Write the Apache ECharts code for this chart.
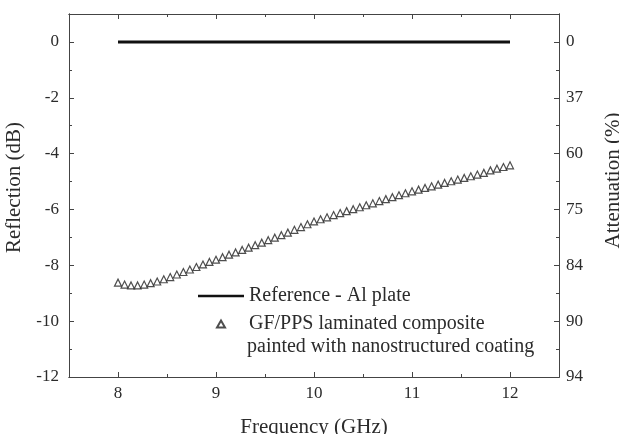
<!DOCTYPE html>
<html>
<head>
<meta charset="utf-8">
<title>Reflection</title>
<script src="https://cdn.jsdelivr.net/npm/echarts@6/dist/echarts.min.js"></script>
</head>
<body style="margin:0;">
<div id="main" style="width: 619px; height: 434px;"></div>
<script type="text/javascript">
// frequency (GHz) of the measured points
var freq = [8.000, 8.067, 8.133, 8.200, 8.267, 8.333, 8.400, 8.467, 8.533, 8.600,
            8.667, 8.733, 8.800, 8.867, 8.933, 9.000, 9.067, 9.133, 9.200, 9.267,
            9.333, 9.400, 9.467, 9.533, 9.600, 9.667, 9.733, 9.800, 9.867, 9.933,
            10.000, 10.067, 10.133, 10.200, 10.267, 10.333, 10.400, 10.467, 10.533, 10.600,
            10.667, 10.733, 10.800, 10.867, 10.933, 11.000, 11.067, 11.133, 11.200, 11.267,
            11.333, 11.400, 11.467, 11.533, 11.600, 11.667, 11.733, 11.800, 11.867, 11.933, 12.000];
// GF/PPS reflection (dB)
var coated = [-8.62, -8.69, -8.72, -8.72, -8.69, -8.64, -8.58, -8.50, -8.42, -8.33,
              -8.24, -8.15, -8.06, -7.97, -7.88, -7.80, -7.71, -7.62, -7.54, -7.45,
              -7.37, -7.28, -7.19, -7.10, -7.01, -6.92, -6.83, -6.73, -6.63, -6.53,
              -6.43, -6.35, -6.28, -6.20, -6.13, -6.06, -5.99, -5.92, -5.85, -5.78,
              -5.70, -5.63, -5.56, -5.49, -5.42, -5.35, -5.29, -5.23, -5.17, -5.11,
              -5.05, -4.99, -4.93, -4.87, -4.81, -4.75, -4.69, -4.60, -4.54, -4.48, -4.42];
// Al plate reference
var refFreq = [8, 12];
var refVal = [0, 0];

var xMajor = [8, 9, 10, 11, 12];
var xMinor = [8.5, 9.5, 10.5, 11.5];
var yMajor = [-12, -10, -8, -6, -4, -2, 0];
var yMinor = [-11, -9, -7, -5, -3, -1];
var attenLabels = ['94', '90', '84', '75', '60', '37', '0'];

var myChart = echarts.init(document.getElementById('main'));

var font = 'Liberation Serif';
var ink = '#2b2b2b';
var axisLine = { show: true, onZero: false, lineStyle: { color: '#444', width: 1 } };

function xAx(pos, ticks, len, labels) {
	return {
		type: 'value', position: pos, min: 7.5, max: 12.5,
		axisLine: axisLine,
		axisTick: { show: true, inside: true, length: len, customValues: ticks, lineStyle: { color: '#444' } },
		axisLabel: labels ? { customValues: ticks, color: ink, fontFamily: font, fontSize: 17, margin: 8 } : { show: false },
		splitLine: { show: false }
	};
}
function yAx(pos, ticks, len, labels) {
	return {
		type: 'value', position: pos, min: -12, max: 1,
		axisLine: axisLine,
		axisTick: { show: true, inside: true, length: len, customValues: ticks, lineStyle: { color: '#444' } },
		axisLabel: labels ? { customValues: ticks, color: ink, fontFamily: font, fontSize: 17, margin: 10 } : { show: false },
		splitLine: { show: false }
	};
}

var xBottom = xAx('bottom', xMajor, 5, true);
xBottom.name = 'Frequency (GHz)';
xBottom.nameLocation = 'middle';
xBottom.nameGap = 40;
xBottom.nameTextStyle = { color: ink, fontFamily: font, fontSize: 21 };

var yLeft = yAx('left', yMajor, 5, true);
yLeft.name = 'Reflection (dB)';
yLeft.nameLocation = 'middle';
yLeft.nameGap = 44;
yLeft.nameTextStyle = { color: ink, fontFamily: font, fontSize: 21, padding: [0, 0, 0, 16] };

var yRight = yAx('right', yMajor, 5, true);
yRight.axisLabel.margin = 7;
yRight.axisLabel.formatter = function (v) {
	var i = yMajor.indexOf(v);
	return i < 0 ? '' : attenLabels[i];
};
yRight.name = 'Attenuation (%)';
yRight.nameLocation = 'middle';
yRight.nameRotate = 90;
yRight.nameGap = 44;
yRight.nameTextStyle = { color: ink, fontFamily: font, fontSize: 21, padding: [0, 0, 20, 30] };

var coatedData = [];
for (var i = 0; i < freq.length; i++) coatedData.push([freq[i], coated[i]]);
var refData = [];
for (var j = 0; j < refFreq.length; j++) refData.push([refFreq[j], refVal[j]]);

option = {
	animation: false,
	backgroundColor: '#fff',
	grid: { left: 69, right: 60, top: 14, bottom: 57, outerBoundsMode: 'none', containLabel: false },
	xAxis: [xBottom, xAx('bottom', xMinor, 3, false), xAx('top', xMajor, 5, false), xAx('top', xMinor, 3, false)],
	yAxis: [yLeft, yAx('left', yMinor, 3, false), yRight, yAx('right', yMinor, 3, false)],
	legend: {
		orient: 'vertical',
		left: 193, top: 281,
		itemWidth: 46, itemHeight: 7, itemGap: 8,
		textStyle: { color: ink, fontFamily: font, fontSize: 20 },
		data: [
			{ name: 'Reference - Al plate', icon: 'path://M0,0L46,0L46,2.5L0,2.5Z' },
			{ name: 'GF/PPS laminated composite', icon: 'path://M4,0L8,7L0,7Z' }
		]
	},
	graphic: [{
		type: 'text', left: 247, top: 337,
		style: { text: 'painted with nanostructured coating', fill: ink, font: '20px "Liberation Serif"' }
	}],
	series: [{
		name: 'Reference - Al plate',
		type: 'line',
		xAxisIndex: 0, yAxisIndex: 0,
		data: refData,
		symbol: 'none',
		lineStyle: { color: '#111', width: 3 },
		itemStyle: { color: '#111' }
	}, {
		name: 'GF/PPS laminated composite',
		type: 'scatter',
		xAxisIndex: 0, yAxisIndex: 0,
		data: coatedData,
		symbol: 'triangle',
		symbolSize: 7,
		itemStyle: { color: '#fff', borderColor: '#222', borderWidth: 1.2 }
	}]
};
myChart.setOption(option);
</script>
</body>
</html>
